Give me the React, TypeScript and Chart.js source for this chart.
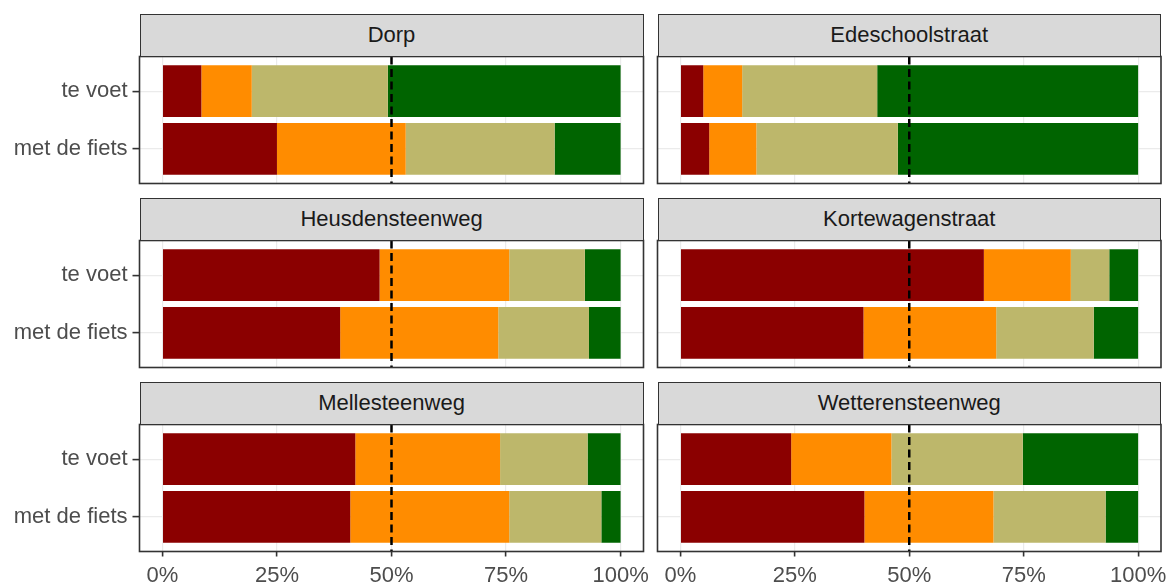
import React, { useEffect, useRef } from "react";
import { Chart, registerables } from "chart.js";

Chart.register(...registerables);

// ---------- data ----------
const facets = [
  "Dorp",
  "Edeschoolstraat",
  "Heusdensteenweg",
  "Kortewagenstraat",
  "Mellesteenweg",
  "Wetterensteenweg",
];
const modes = ["te voet", "met de fiets"];
const xTickValues = [0, 25, 50, 75, 100];
const referenceLine = 50;

const seriesLabels = ["zeer onveilig", "eerder onveilig", "eerder veilig", "zeer veilig"];
const seriesColors = ["#8B0000", "#FF8C00", "#BDB76B", "#006400"];

// per facet: [te voet, met de fiets] (percent)
const zeerOnveilig = [[8.5, 25.0], [5.0, 6.3], [47.4, 38.8], [66.3, 40.0], [42.1, 41.0], [24.2, 40.2]];
const eerderOnveilig = [[11.0, 28.1], [8.5, 10.3], [28.3, 34.5], [19.0, 29.0], [31.6, 34.7], [21.9, 28.2]];
const eerderVeilig = [[29.7, 32.5], [29.5, 30.9], [16.5, 19.8], [8.4, 21.3], [19.1, 20.1], [28.7, 24.5]];
const zeerVeilig = [[50.8, 14.4], [57.0, 52.5], [7.8, 6.9], [6.3, 9.7], [7.2, 4.2], [25.2, 7.1]];
const allSeries = [zeerOnveilig, eerderOnveilig, eerderVeilig, zeerVeilig];

// ---------- layout ----------
const FONT = "'Liberation Sans', Arial, Helvetica, sans-serif";
const COL_CANVAS_LEFT = [0, 650];
const COL_CANVAS_WIDTH = [650, 520];
const PANEL_LEFT = [139.5, 657.5];
const PANEL_RIGHT = [643.5, 1161];
const ROW_STRIP_TOP = [13.5, 197.5, 381.5];
const STRIP_H = 43;
const PANEL_H = 127;
const PAD_TOP = 2.5;

const panelDecor = {
  id: "panelDecor",
  afterDatasetsDraw(chart: any) {
    const { ctx, chartArea: a, scales } = chart;
    const x = scales.x.getPixelForValue(referenceLine);
    ctx.save();
    ctx.strokeStyle = "#000000";
    ctx.lineWidth = 2.5;
    ctx.setLineDash([8, 4.5]);
    ctx.beginPath();
    ctx.moveTo(x, a.top);
    ctx.lineTo(x, a.bottom);
    ctx.stroke();
    ctx.setLineDash([]);
    ctx.strokeStyle = "#333333";
    ctx.lineWidth = 1.6;
    ctx.strokeRect(a.left, a.top, a.right - a.left, a.bottom - a.top);
    ctx.restore();
  },
};

function Panel({ index }: { index: number }) {
  const ref = useRef<HTMLCanvasElement | null>(null);
  const col = index % 2;
  const row = Math.floor(index / 2);
  const isLeft = col === 0;
  const isBottom = row === 2;
  const canvasLeft = COL_CANVAS_LEFT[col];
  const canvasW = COL_CANVAS_WIDTH[col];
  const panelTop = ROW_STRIP_TOP[row] + STRIP_H;
  const canvasTop = panelTop - PAD_TOP;
  const canvasH = isBottom ? 160 : 133;
  const xAxisH = isBottom ? canvasH - PAD_TOP - PANEL_H : 0;
  const padBottom = isBottom ? 0 : canvasH - PAD_TOP - PANEL_H;

  useEffect(() => {
    if (!ref.current) return;
    const chart = new Chart(ref.current, {
      type: "bar",
      data: {
        datasets: allSeries.map((s, k) => ({
          label: seriesLabels[k],
          backgroundColor: seriesColors[k],
          borderWidth: 0,
          categoryPercentage: 1,
          barPercentage: 0.9,
          data: s[index].map((v, m) => ({ x: v, y: m })),
        })),
      },
      options: {
        indexAxis: "y",
        responsive: false,
        maintainAspectRatio: false,
        animation: false,
        devicePixelRatio: 1,
        events: [],
        layout: {
          padding: {
            left: 0,
            right: canvasW - (PANEL_RIGHT[col] - canvasLeft),
            top: PAD_TOP,
            bottom: padBottom,
          },
        },
        plugins: {
          legend: { display: false },
          tooltip: { enabled: false },
          title: { display: false },
        },
        scales: {
          x: {
            type: "linear",
            min: -5,
            max: 105,
            stacked: true,
            offset: false,
            afterBuildTicks: (s: any) => {
              s.ticks = xTickValues.map((v) => ({ value: v }));
            },
            afterFit: (s: any) => {
              s.height = xAxisH;
              s.paddingLeft = 0;
              s.paddingRight = 0;
            },
            border: { display: false },
            grid: {
              offset: false,
              color: "#EBEBEB",
              lineWidth: 1.2,
              drawTicks: isBottom,
              tickLength: 5,
              tickColor: "#333333",
              tickWidth: 1.6,
            },
            ticks: {
              display: isBottom,
              padding: 6,
              color: "#4D4D4D",
              font: { family: FONT, size: 22 },
              maxRotation: 0,
              autoSkip: false,
              callback: (v: any) => v + "%",
            },
          },
          y: {
            type: "linear",
            min: -0.6,
            max: 1.6,
            reverse: true,
            stacked: true,
            offset: false,
            afterBuildTicks: (s: any) => {
              s.ticks = modes.map((_, i) => ({ value: i }));
            },
            afterFit: (s: any) => {
              s.width = PANEL_LEFT[col] - canvasLeft;
              s.paddingTop = 0;
              s.paddingBottom = 0;
            },
            border: { display: false },
            grid: {
              offset: false,
              color: "#EBEBEB",
              lineWidth: 1.2,
              drawTicks: isLeft,
              tickLength: 7,
              tickColor: "#333333",
              tickWidth: 1.6,
            },
            ticks: {
              display: isLeft,
              padding: 5,
              color: "#4D4D4D",
              font: { family: FONT, size: 22 },
              autoSkip: false,
              callback: (v: any) => modes[v] ?? "",
            },
          },
        },
      } as any,
      plugins: [panelDecor],
    });
    return () => chart.destroy();
  }, [index]);

  return (
    <>
      <canvas
        ref={ref}
        width={canvasW}
        height={canvasH}
        style={{
          position: "absolute",
          left: canvasLeft,
          top: canvasTop,
          width: canvasW,
          height: canvasH,
        }}
      />
      <div
        style={{
          position: "absolute",
          left: PANEL_LEFT[col],
          top: ROW_STRIP_TOP[row],
          width: PANEL_RIGHT[col] - PANEL_LEFT[col],
          height: STRIP_H,
          boxSizing: "border-box",
          background: "#D9D9D9",
          border: "1.6px solid #333333",
          display: "flex",
          alignItems: "center",
          justifyContent: "center",
          fontFamily: FONT,
          fontSize: 22,
          color: "#1A1A1A",
        }}
      >
        {facets[index]}
      </div>
    </>
  );
}

export default function App() {
  return (
    <div
      style={{
        position: "absolute",
        left: 0,
        top: 0,
        width: 1170,
        height: 582,
        background: "#FFFFFF",
        overflow: "hidden",
      }}
    >
      {facets.map((name, i) => (
        <Panel key={name} index={i} />
      ))}
    </div>
  );
}
